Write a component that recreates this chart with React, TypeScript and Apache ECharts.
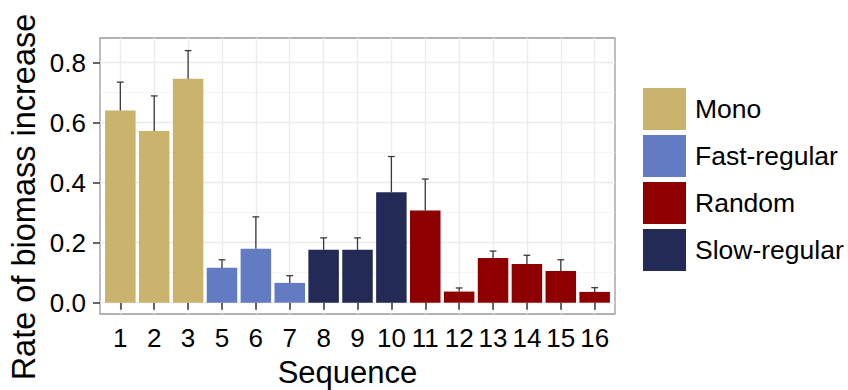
import React, { useEffect, useRef } from "react";
import * as echarts from "echarts";

const sequences = ["1", "2", "3", "5", "6", "7", "8", "9", "10", "11", "12", "13", "14", "15", "16"];
const groups = ["Mono", "Mono", "Mono", "Fast-regular", "Fast-regular", "Fast-regular", "Slow-regular", "Slow-regular", "Slow-regular", "Random", "Random", "Random", "Random", "Random", "Random"];
const rates = [0.64, 0.572, 0.746, 0.116, 0.18, 0.066, 0.176, 0.176, 0.368, 0.307, 0.037, 0.149, 0.129, 0.106, 0.036];
const errors = [0.095, 0.117, 0.094, 0.027, 0.106, 0.024, 0.04, 0.04, 0.119, 0.105, 0.012, 0.023, 0.029, 0.037, 0.014];
const legendOrder = ["Mono", "Fast-regular", "Random", "Slow-regular"];
const groupColors = ["#C9B36D", "#637BC3", "#8E0000", "#232A56"];
const yTicks = [0, 0.2, 0.4, 0.6, 0.8];
const yMinorTicks = [0.1, 0.3, 0.5, 0.7];

const FONT = "'Liberation Sans', Arial, Helvetica, sans-serif";

export default function App() {
  const ref = useRef<HTMLDivElement>(null);
  useEffect(() => {
    if (!ref.current) return;
    const chart = echarts.init(ref.current, null, { renderer: "svg" });
    const xPos = sequences.map((_, i) => i + 1);
    const gridLeft = 100, gridTop = 38, gridW = 515, gridH = 276;
    const xMin = 0.4, xMax = sequences.length + 0.6;
    const barW = (0.9 * gridW) / (xMax - xMin);

    const barSeries = legendOrder.map((g, gi) => ({
      type: "bar",
      name: g,
      stack: "all",
      barWidth: barW,
      itemStyle: { color: groupColors[gi] },
      data: xPos.filter((_, i) => groups[i] === g).map((x) => [x, rates[x - 1]]),
      z: 2,
    }));

    const option: any = {
      animation: false,
      textStyle: { fontFamily: FONT },
      grid: {
        left: gridLeft,
        top: gridTop,
        width: gridW,
        height: gridH,
        show: true,
        borderColor: "#9a9a9a",
        borderWidth: 1.3,
        backgroundColor: "#fff",
      },
      legend: {
        orient: "vertical",
        left: 643,
        top: 88,
        itemWidth: 43,
        itemHeight: 42,
        itemGap: 5,
        padding: 0,
        icon: "rect",
        data: legendOrder,
        textStyle: { fontSize: 26.5, color: "#000", fontFamily: FONT, padding: [0, 0, 0, 4] },
      },
      xAxis: {
        type: "value",
        min: xMin,
        max: xMax,
        axisLine: { show: false },
        axisTick: { customValues: xPos, length: 7, lineStyle: { color: "#333", width: 1.5 } },
        axisLabel: {
          customValues: xPos,
          formatter: (v: number) => sequences[Math.round(v) - 1] ?? "",
          margin: 11,
          fontSize: 26,
          color: "#000",
          fontFamily: FONT,
        },
        splitLine: { show: true, lineStyle: { color: "#ebebeb", width: 1.3 } },
      },
      yAxis: [
        {
          type: "value",
          min: -0.0377,
          max: 0.882,
          axisLine: { show: false },
          axisTick: { customValues: yTicks, length: 7, lineStyle: { color: "#333", width: 1.5 } },
          axisLabel: {
            customValues: yTicks,
            formatter: (v: number) => v.toFixed(1),
            margin: 14,
            fontSize: 26,
            color: "#000",
            fontFamily: FONT,
          },
          splitLine: { show: true, lineStyle: { color: "#ebebeb", width: 1.3 } },
        },
        {
          type: "value",
          min: -0.0377,
          max: 0.882,
          position: "left",
          axisLine: { show: false },
          axisTick: { show: false, customValues: yMinorTicks },
          axisLabel: { show: false, customValues: yMinorTicks },
          splitLine: { show: true, lineStyle: { color: "#f4f4f4", width: 0.8 } },
        },
      ],
      series: [
        ...barSeries,
        {
          type: "custom",
          name: "se",
          z: 3,
          data: xPos.map((x, i) => [x, rates[i], errors[i]]),
          encode: { x: 0, y: 1 },
          renderItem: (params: any, api: any) => {
            const x = api.value(0), v = api.value(1), e = api.value(2);
            const p0 = api.coord([x, v]);
            const p1 = api.coord([x, v + e]);
            const hw = api.size([0.2, 0])[0] / 2;
            const style = { stroke: "#3a3a3a", lineWidth: 1.3 };
            return {
              type: "group",
              children: [
                { type: "line", shape: { x1: p0[0], y1: p0[1], x2: p1[0], y2: p1[1] }, style },
                { type: "line", shape: { x1: p1[0] - hw, y1: p1[1], x2: p1[0] + hw, y2: p1[1] }, style },
              ],
            };
          },
        },
      ],
      graphic: [
        {
          type: "text",
          x: 24,
          y: 197,
          rotation: Math.PI / 2,
          style: {
            text: "Rate of biomass increase",
            font: `32.5px ${FONT}`,
            fill: "#000",
            textAlign: "center",
            textVerticalAlign: "middle",
          },
        },
        {
          type: "text",
          x: 347.5,
          y: 372,
          style: {
            text: "Sequence",
            font: `31px ${FONT}`,
            fill: "#000",
            textAlign: "center",
            textVerticalAlign: "middle",
          },
        },
      ],
    };
    chart.setOption(option);
    return () => chart.dispose();
  }, []);
  return (
    <div
      ref={ref}
      style={{ position: "fixed", left: 0, top: 0, width: 848, height: 390, background: "#fff" }}
    />
  );
}
